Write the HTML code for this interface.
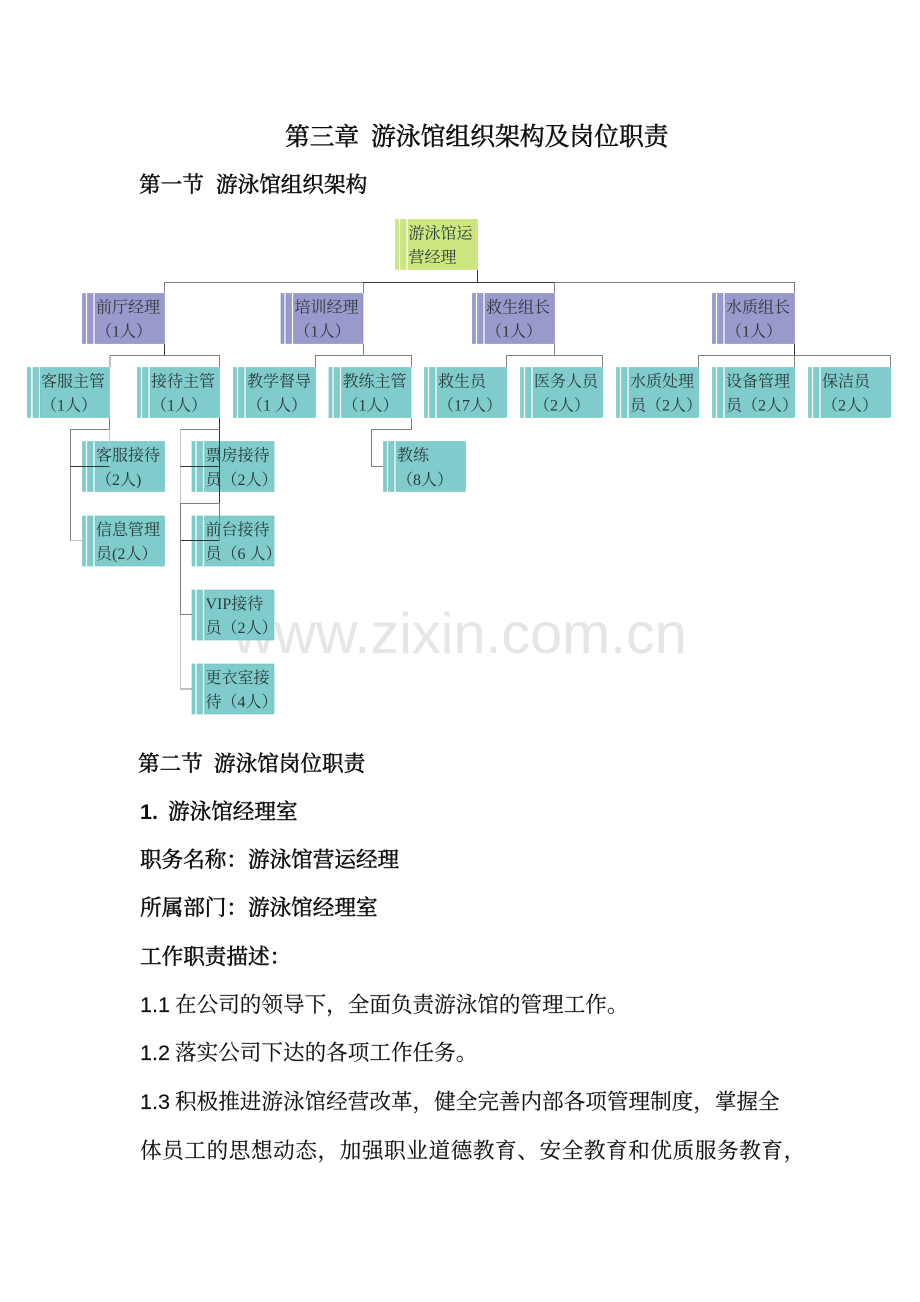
<!DOCTYPE html>
<html lang="zh">
<head>
<meta charset="utf-8">
<title>第三章 游泳馆组织架构及岗位职责</title>
<style>
html,body{margin:0;padding:0;background:#fff;width:920px;height:1302px;overflow:hidden}
svg{display:block}
.t{fill:#2a3a3a;stroke:none;font-family:"Liberation Serif","Noto Serif CJK SC",serif;font-size:16px}
.h{fill:#111;stroke:#111;stroke-width:.55px;font-family:"Liberation Sans","Noto Serif CJK SC",serif;font-size:21.6px;font-weight:400}
.n{font-weight:700;stroke:none}
.b{fill:#111;stroke:#111;stroke-width:.15px;font-family:"Liberation Sans","Noto Serif CJK SC",serif;font-size:21.6px}
.p{fill:#9999cc;stroke:#8585c6;stroke-width:.6}
.c{fill:#80cccc;stroke:#6cc2c2;stroke-width:.6}
.g{fill:#cce680;stroke:#c4e070;stroke-width:.6}
.l{fill:none;stroke:#808080;stroke-width:1}
.d{fill:none;stroke:#333;stroke-width:1}
.x{fill:none;stroke:#c4c4c4;stroke-width:1}
</style>
</head>
<body>
<svg xmlns="http://www.w3.org/2000/svg" width="920" height="1302" viewBox="0 0 920 1302">
<rect width="920" height="1302" fill="#fff"/>

<text x="285" y="145" class="h" style="font-size:24.7px">第三章</text>
<text x="371" y="145" class="h" style="font-size:24.8px">游泳馆组织架构及岗位职责</text>
<text x="139" y="192" class="h">第一节</text>
<text x="216" y="192" class="h">游泳馆组织架构</text>

<!-- watermark -->
<text x="233" y="653" font-family="'Liberation Sans',sans-serif" font-size="57.5" fill="#e6e6e6">www.zixin.com.cn</text>

<!-- boxes -->
<g class="g"><rect x="395.5" y="219.5" width="3" height="50"/><rect x="400.5" y="219.5" width="5.5" height="50"/><rect x="408" y="219.5" width="69.5" height="50"/></g>

<g class="p"><rect x="82.5" y="293.5" width="3" height="50"/><rect x="87.5" y="293.5" width="5.5" height="50"/><rect x="95" y="293.5" width="69.5" height="50"/></g>
<g class="p"><rect x="281" y="293.5" width="3" height="50"/><rect x="286" y="293.5" width="5.5" height="50"/><rect x="293.5" y="293.5" width="69.5" height="50"/></g>
<g class="p"><rect x="472.5" y="293.5" width="3" height="50"/><rect x="477.5" y="293.5" width="5.5" height="50"/><rect x="485" y="293.5" width="69.5" height="50"/></g>
<g class="p"><rect x="712.5" y="293.5" width="3" height="50"/><rect x="717.5" y="293.5" width="5.5" height="50"/><rect x="725" y="293.5" width="69.5" height="50"/></g>

<g class="c"><rect x="27.5" y="367.5" width="3" height="50"/><rect x="33" y="367.5" width="5.5" height="50"/><rect x="40" y="367.5" width="69.5" height="50"/></g>
<g class="c"><rect x="137.5" y="367.5" width="3" height="50"/><rect x="142.5" y="367.5" width="5.5" height="50"/><rect x="150" y="367.5" width="69.5" height="50"/></g>
<g class="c"><rect x="233.5" y="367.5" width="3" height="50"/><rect x="238.5" y="367.5" width="5.5" height="50"/><rect x="246" y="367.5" width="69.5" height="50"/></g>
<g class="c"><rect x="329" y="367.5" width="3" height="50"/><rect x="334" y="367.5" width="5.5" height="50"/><rect x="341.5" y="367.5" width="69.5" height="50"/></g>
<g class="c"><rect x="424.5" y="367.5" width="3" height="50"/><rect x="429.5" y="367.5" width="5.5" height="50"/><rect x="437" y="367.5" width="69.5" height="50"/></g>
<g class="c"><rect x="520.5" y="367.5" width="3" height="50"/><rect x="525.5" y="367.5" width="5.5" height="50"/><rect x="533" y="367.5" width="69.5" height="50"/></g>
<g class="c"><rect x="616.5" y="367.5" width="3" height="50"/><rect x="621.5" y="367.5" width="5.5" height="50"/><rect x="629" y="367.5" width="69.5" height="50"/></g>
<g class="c"><rect x="712.5" y="367.5" width="3" height="50"/><rect x="717.5" y="367.5" width="5.5" height="50"/><rect x="725" y="367.5" width="69.5" height="50"/></g>
<g class="c"><rect x="808.5" y="367.5" width="3" height="50"/><rect x="813.5" y="367.5" width="5.5" height="50"/><rect x="821" y="367.5" width="69.5" height="50"/></g>

<g class="c"><rect x="82.5" y="441.5" width="3" height="50"/><rect x="87.5" y="441.5" width="5.5" height="50"/><rect x="95" y="441.5" width="69.5" height="50"/></g>
<g class="c"><rect x="82.5" y="516" width="3" height="50"/><rect x="87.5" y="516" width="5.5" height="50"/><rect x="95" y="516" width="69.5" height="50"/></g>
<g class="c"><rect x="192" y="441.5" width="3" height="50"/><rect x="197" y="441.5" width="5.5" height="50"/><rect x="204.5" y="441.5" width="69.5" height="50"/></g>
<g class="c"><rect x="192" y="516" width="3" height="50"/><rect x="197" y="516" width="5.5" height="50"/><rect x="204.5" y="516" width="69.5" height="50"/></g>
<g class="c"><rect x="192" y="590" width="3" height="50"/><rect x="197" y="590" width="5.5" height="50"/><rect x="204.5" y="590" width="69.5" height="50"/></g>
<g class="c"><rect x="192" y="664" width="3" height="50"/><rect x="197" y="664" width="5.5" height="50"/><rect x="204.5" y="664" width="69.5" height="50"/></g>
<g class="c"><rect x="383.5" y="441.5" width="3" height="50"/><rect x="388.5" y="441.5" width="5.5" height="50"/><rect x="396" y="441.5" width="69.5" height="50"/></g>

<!-- connectors -->
<path class="l" d="M164.5 293V282.5H363.5V293M554.5 293V282.5H794.5V293"/>
<path class="d" d="M477.5 270V282.5M363.5 282.5H554.5"/>
<path class="l" d="M110 367V355.5H219.5V367"/>
<path class="d" d="M164.5 344V355.5"/>
<path class="l" d="M315.5 367V355.5H411.5V367M363.5 344V355.5M506.5 367V355.5H602.5V367M554.5 344V355.5"/>
<path class="l" d="M698.5 367V355.5H890.5V367"/>
<path class="d" d="M794.5 344V355.5"/>
<path class="l" d="M794.5 355.5V367"/>

<path class="l" d="M109.5 418V429.5H70.5V540.5H82"/>
<path class="x" d="M109.5 429.5V466.5"/>
<path class="d" d="M70.5 466.5H109.5"/>
<path class="x" d="M70.5 540.5H82"/>

<path class="d" d="M219.5 418V503.5"/>
<path class="l" d="M219.5 429.5H180.5V689H192"/>
<path class="x" d="M180.5 429.5V503M180.5 614.5V689"/>
<path class="d" d="M180.5 466.5H219.5M180.5 540.5H219.5"/>
<path class="l" d="M180.5 503.5H219.5V540.5"/>
<path class="l" d="M180.5 503V614.5H192"/>

<path class="l" d="M411.5 418V429.5H371.5V466.5H383"/>

<!-- box labels -->
<text class="t" x="408.5" y="238.5">游泳馆运</text><text class="t" x="408.5" y="262.5">营经理</text>

<text class="t" x="96" y="312.5">前厅经理</text><text class="t" x="96" y="336.5">（1人）</text>
<text class="t" x="294.5" y="312.5">培训经理</text><text class="t" x="294.5" y="336.5">（1人）</text>
<text class="t" x="486" y="312.5">救生组长</text><text class="t" x="486" y="336.5">（1人）</text>
<text class="t" x="726" y="312.5">水质组长</text><text class="t" x="726" y="336.5">（1人）</text>

<text class="t" x="41" y="386.5">客服主管</text><text class="t" x="41" y="410.5">（1人）</text>
<text class="t" x="151" y="386.5">接待主管</text><text class="t" x="151" y="410.5">（1人）</text>
<text class="t" x="247" y="386.5">教学督导</text><text class="t" x="247" y="410.5">（1 人）</text>
<text class="t" x="342.5" y="386.5">教练主管</text><text class="t" x="342.5" y="410.5">（1人）</text>
<text class="t" x="438" y="386.5">救生员</text><text class="t" x="438" y="410.5">（17人）</text>
<text class="t" x="534" y="386.5">医务人员</text><text class="t" x="534" y="410.5">（2人）</text>
<text class="t" x="630" y="386.5">水质处理</text><text class="t" x="630" y="410.5">员（2人）</text>
<text class="t" x="726" y="386.5">设备管理</text><text class="t" x="726" y="410.5">员（2人）</text>
<text class="t" x="822" y="386.5">保洁员</text><text class="t" x="822" y="410.5">（2人）</text>

<text class="t" x="96" y="460.5">客服接待</text><text class="t" x="96" y="485">（2人)</text>
<text class="t" x="96" y="535">信息管理</text><text class="t" x="96" y="559">员(2人）</text>
<text class="t" x="205.5" y="460.5">票房接待</text><text class="t" x="205.5" y="485">员（2人）</text>
<text class="t" x="205.5" y="535">前台接待</text><text class="t" x="205.5" y="559">员（6 人）</text>
<text class="t" x="205.5" y="609">VIP接待</text><text class="t" x="205.5" y="633">员（2人）</text>
<text class="t" x="205.5" y="683">更衣室接</text><text class="t" x="205.5" y="707">待（4人）</text>
<text class="t" x="397" y="460.5">教练</text><text class="t" x="397" y="485">（8人）</text>

<!-- body text -->
<text x="138" y="771" class="h">第二节</text>
<text x="214" y="771" class="h">游泳馆岗位职责</text>
<text x="140" y="819" class="h n">1.</text>
<text x="168" y="819" class="h">游泳馆经理室</text>
<text x="140" y="867" class="h">职务名称：游泳馆营运经理</text>
<text x="140" y="915" class="h">所属部门：游泳馆经理室</text>
<text x="140" y="964" class="h">工作职责描述：</text>
<text x="140" y="1012" class="b">1.1</text>
<text x="175" y="1012" class="b">在公司的领导下，全面负责游泳馆的管理工作。</text>
<text x="140" y="1060" class="b">1.2</text>
<text x="175" y="1060" class="b">落实公司下达的各项工作任务。</text>
<text x="140" y="1109" class="b">1.3</text>
<text x="175" y="1109" class="b">积极推进游泳馆经营改革，健全完善内部各项管理制度，掌握全</text>
<text x="140" y="1158" class="b" style="letter-spacing:.6px">体员工的思想动态，加强职业道德教育、安全教育和优质服务教育，</text>
</svg>
</body>
</html>
